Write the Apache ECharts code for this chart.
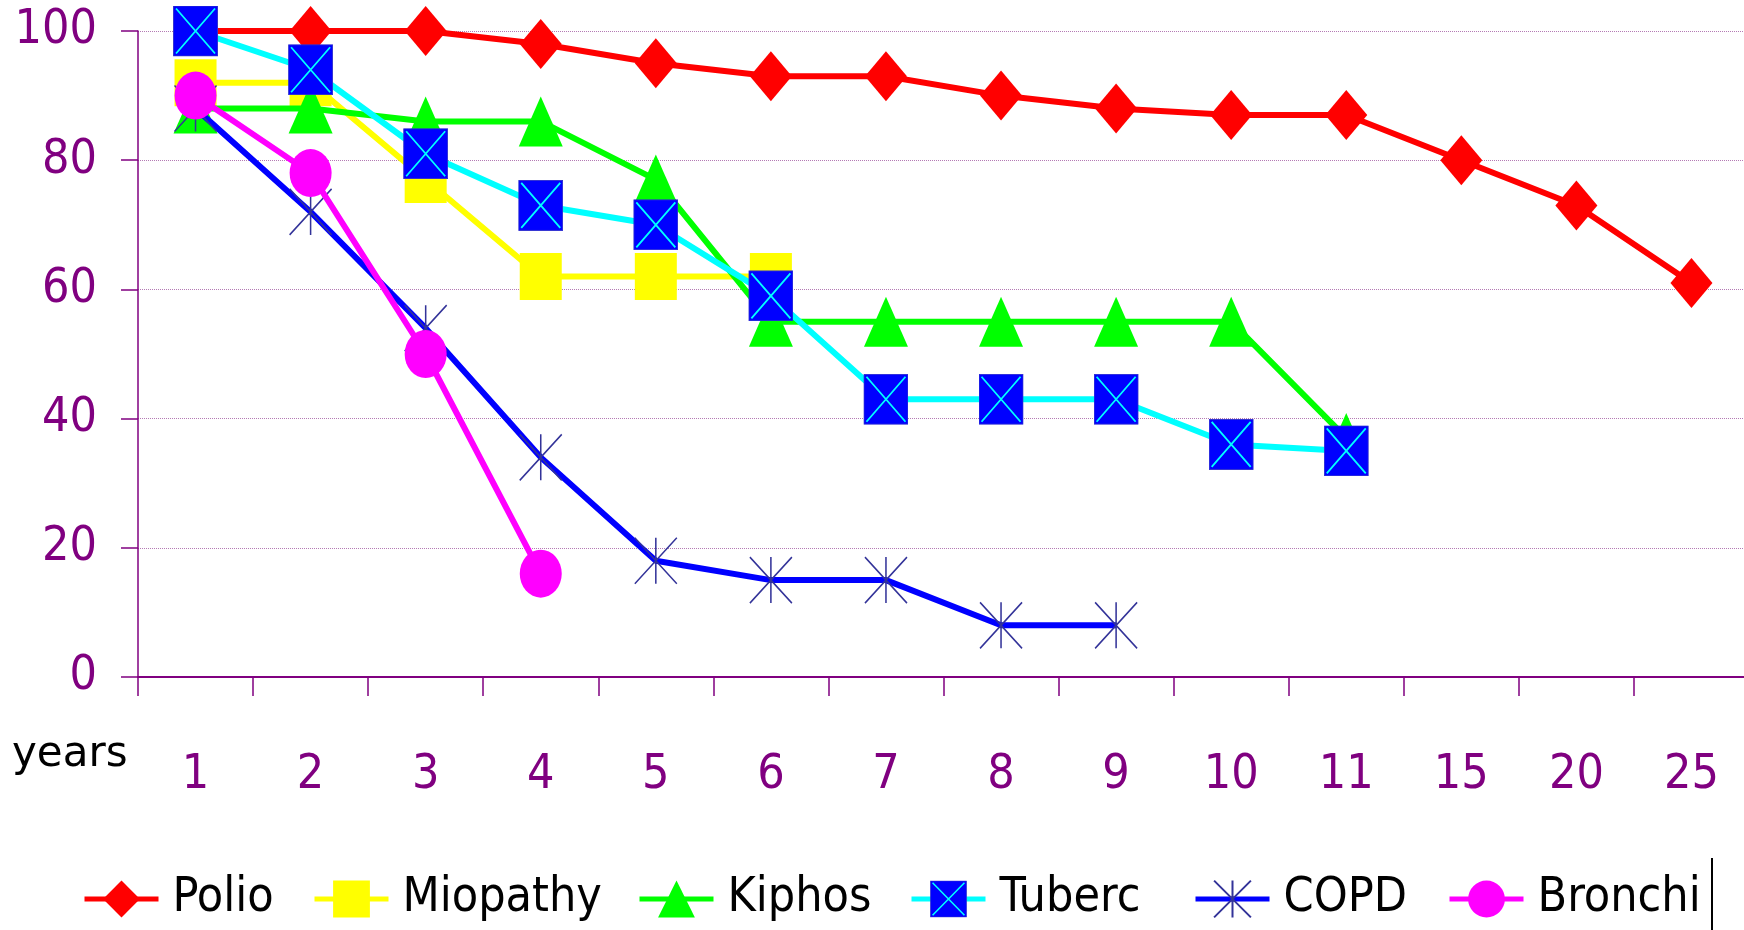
<!DOCTYPE html>
<html>
<head>
<meta charset="utf-8">
<script src="https://cdn.jsdelivr.net/npm/echarts@6/dist/echarts.min.js"></script>
<style>
html,body{margin:0;padding:0;background:#fff;}
#chart{width:1744px;height:930px;}
</style>
</head>
<body>
<div id="chart"></div>
<script>
var categories = ['1','2','3','4','5','6','7','8','9','10','11','15','20','25'];
var seriesNames = ['Polio','Miopathy','Kiphos','Tuberc','COPD','Bronchi'];
var polio    = [100,100,100,98,95,93,93,90,88,87,87,80,73,61];
var miopathy = [92,92,77,62,62,62];
var kiphos   = [88,88,86,86,77,55,55,55,55,55,37];
var tuberc   = [100,94,81,73,70,59,43,43,43,36,35];
var copd     = [88,72,54,34,18,15,15,8,8];
var bronchi  = [90,78,50,16];
var legendLefts = [77, 307, 632, 904, 1188, 1442];

var FONT = '"DejaVu Sans Condensed","DejaVu Sans",sans-serif';
var PURPLE = '#800080';

var tubercSvg = "<svg xmlns='http://www.w3.org/2000/svg' width='45' height='51' viewBox='0 0 45 51'>" +
  "<rect x='0.5' y='0.5' width='44' height='50' fill='#0000ff' stroke='#2f2fd0' stroke-width='1'/>" +
  "<path d='M3,3 L42,48 M42,3 L3,48' stroke='#00ffff' stroke-width='1.8' fill='none'/></svg>";
var tubercSymbol = 'image://data:image/svg+xml;charset=utf-8,' + encodeURIComponent(tubercSvg);
var asteriskSymbol = 'path://M0,0L42,46M42,0L0,46M21,0L21,46';
var ellipseSymbol = 'path://M0,50A50,50,0,1,1,100,50A50,50,0,1,1,0,50Z';

function mk(name, data, color, symbol, size, extra) {
  var s = {
    name: name, type: 'line', data: data,
    symbol: symbol, symbolSize: size, showSymbol: true,
    lineStyle: { color: color, width: 6 },
    itemStyle: { color: color },
    emphasis: { disabled: true },
    animation: false
  };
  if (extra) { for (var k in extra) s[k] = extra[k]; }
  return s;
}

var series = [
  mk('Polio', polio, '#ff0000', 'diamond', [42, 50]),
  mk('Miopathy', miopathy, '#ffff00', 'rect', [42, 47]),
  mk('Kiphos', kiphos, '#00ff00', 'triangle', [44, 50]),
  mk('Tuberc', tuberc, '#00ffff', tubercSymbol, [45, 51]),
  mk('COPD', copd, '#0000ff', asteriskSymbol, [42, 46], {
    itemStyle: { color: 'rgba(0,0,0,0)', borderColor: '#333399', borderWidth: 1.6 }
  }),
  mk('Bronchi', bronchi, '#ff00ff', ellipseSymbol, [42, 48])
];
series.forEach(function (s, i) { s.z = 2 + i; });

var legends = seriesNames.map(function (n, i) {
  return {
    data: [n],
    left: legendLefts[i], top: 870,
    itemWidth: 74, itemHeight: 46, itemGap: 0,
    lineStyle: { width: 5 },
    textStyle: { color: '#000', fontSize: 48, fontFamily: FONT, lineHeight: 46, padding: [0, 0, 0, 9] },
    selectedMode: false
  };
});

var chart = echarts.init(document.getElementById('chart'), null, { renderer: 'canvas' });
chart.setOption({
  backgroundColor: '#ffffff',
  animation: false,
  grid: { left: 138, top: 31, right: -5, height: 646, containLabel: false, outerBoundsMode: 'none' },
  xAxis: {
    type: 'category',
    data: categories,
    boundaryGap: true,
    axisLine: { show: true, lineStyle: { color: PURPLE, width: 2 } },
    axisTick: { show: true, length: 19, alignWithLabel: false, lineStyle: { color: PURPLE, width: 1.5 } },
    axisLabel: { color: PURPLE, fontSize: 48, fontFamily: FONT, margin: 75, interval: 0 },
    splitLine: { show: false }
  },
  yAxis: {
    type: 'value', min: 0, max: 100, interval: 20,
    axisLine: { show: true, lineStyle: { color: PURPLE, width: 1.5 } },
    axisTick: { show: true, length: 17, lineStyle: { color: PURPLE, width: 1.5 } },
    axisLabel: { color: PURPLE, fontSize: 48, fontFamily: FONT, margin: 41 },
    splitLine: { show: true, lineStyle: { color: '#b47ab4', width: 1, type: 'dotted' } }
  },
  legend: legends,
  graphic: [
    { type: 'text', left: 12, top: 734,
      style: { text: 'years', fill: '#000', font: '42px "DejaVu Sans", sans-serif' } },
    { type: 'line', shape: { x1: 1712, y1: 858, x2: 1712, y2: 930 },
      style: { stroke: '#000', lineWidth: 2 } }
  ],
  series: series
});
</script>
</body>
</html>
